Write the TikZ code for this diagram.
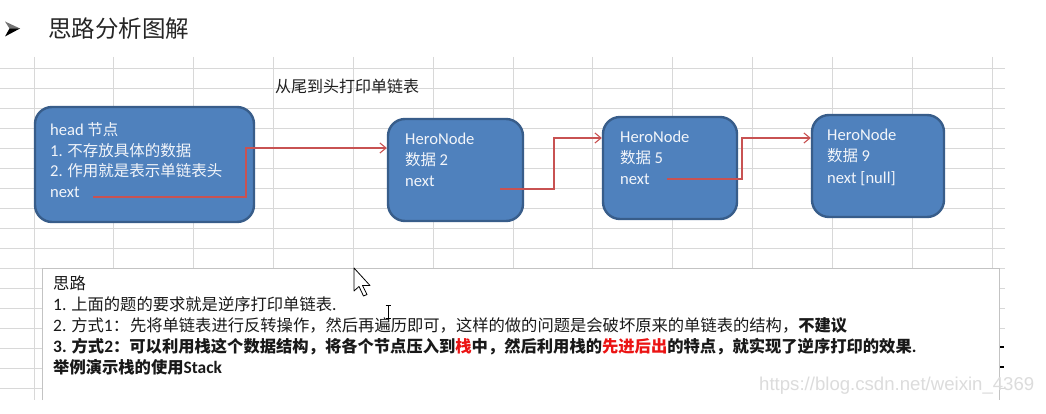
\documentclass[tikz,border=0pt]{standalone}
\usepackage{fontspec}
\usetikzlibrary{arrows.meta}
\setmainfont{Noto Sans CJK SC}
\newfontfamily\latf[Scale=1.07]{Carlito}
\newfontfamily\wmfont{Liberation Sans}
\definecolor{nodefill}{RGB}{79,129,189}
\definecolor{nodeline}{RGB}{56,93,138}
\definecolor{linkred}{RGB}{200,82,82}
\definecolor{gridc}{RGB}{216,216,216}
\definecolor{boxline}{RGB}{195,195,195}
\definecolor{wmc}{RGB}{220,220,220}
\definecolor{txtwhite}{RGB}{242,245,250}
\definecolor{hlred}{RGB}{235,20,20}
\tikzset{
  gridl/.style={draw=gridc, line width=0.8pt},
  hnode/.style={draw=nodeline, fill=nodefill, line width=2.4pt, rounded corners=17pt, inner sep=0pt},
  ntext/.style={anchor=base west, inner sep=0pt, text=txtwhite, font=\fontsize{15.5}{18}\selectfont},
  btext/.style={anchor=base west, inner sep=0pt, text=black!90, font=\fontsize{16.3}{20}\selectfont},
  link/.style={draw=linkred, line width=1.1pt, -{Straight Barb[length=6pt,width=10pt]}},
}
\begin{document}
\begin{tikzpicture}[x=1pt,y=-1pt]
\useasboundingbox (0,0) rectangle (1046,414);
\clip (0,0) rectangle (1046,414);
\fill[white] (0,0) rectangle (1046,414);
% heading bullet arrow
\coordinate (bt) at (20,28.5);
\coordinate (bn) at (9.5,28.5);
\fill[black!55] (5,21.5) -- (bt) -- (bn) -- cycle;
\fill[black] (bn) -- (bt) -- (5,36.5) -- cycle;
\node[anchor=base west, inner sep=0pt, text=black!85, font=\fontsize{23.5}{26}\selectfont] (heading) at (48,37.5) {思路分析图解};
% spreadsheet grid
\foreach \k in {0,...,9} { \draw[gridl] (0,68+20*\k) -- (1005,68+20*\k); }
\draw[gridl] (0,268) -- (1005,268);
\foreach \k in {0,...,12} { \draw[gridl] (34+79.83*\k,57) -- (34+79.83*\k,268); }
\draw[gridl] (34,268) -- (34,400);
\foreach \y in {288,308,328,348,368,388} { \draw[gridl] (0,\y) -- (42,\y); }
\foreach \y in {288,308,328,388} { \draw[gridl] (999,\y) -- (1005,\y); }
\draw[line width=2pt] (999,347) -- (1004,347);
\draw[line width=2pt] (999,367) -- (1004,367);
% title
\node[anchor=base west, inner sep=0pt, text=black!88, font=\fontsize{16}{18}\selectfont] (title) at (275,92.5) {从尾到头打印单链表};
% list nodes
\node[hnode, minimum width=219pt, minimum height=115pt] (head) at (144.5,164.5) {};
\node[hnode, minimum width=135pt, minimum height=102pt] (n2) at (455.5,170) {};
\node[hnode, minimum width=134pt, minimum height=102pt] (n5) at (670,168) {};
\node[hnode, minimum width=132pt, minimum height=102pt] (n9) at (878,166) {};
% node texts
\node[ntext] (h1) at (50,136) {{\latf head} 节点};
\node[ntext] (h2) at (50,156.5) {{\latf 1.} 不存放具体的数据};
\node[ntext] (h3) at (50,177) {{\latf 2.} 作用就是表示单链表头};
\node[ntext] (h4) at (50,197) {\latf next};
\node[ntext] (a1) at (405,145) {\latf HeroNode};
\node[ntext] (a2) at (405,166) {数据 {\latf 2}};
\node[ntext] (a3) at (405,186) {\latf next};
\node[ntext] (b1) at (620,143) {\latf HeroNode};
\node[ntext] (b2) at (620,164) {数据 {\latf 5}};
\node[ntext] (b3) at (620,185) {\latf next};
\node[ntext] (c1) at (827,141) {\latf HeroNode};
\node[ntext] (c2) at (827,162) {数据 {\latf 9}};
\node[ntext] (c3) at (827,183) {\latf next [null]};
% links
\coordinate (hnext) at (93,197);
\coordinate (hup) at (246,148);
\coordinate (anext) at (500,189);
\coordinate (aup) at (554,138);
\coordinate (bnext) at (667,179);
\coordinate (bup) at (742,138);
\draw[link] (hnext) -| (hup) -- (n2.west |- hup);
\draw[link] (anext) -| (aup) -- (n5.west |- aup);
\draw[link] (bnext) -| (bup) -- (n9.west |- bup);
% text box
\fill[white] (42,268) rectangle (999,414);
\draw[draw=boxline, line width=0.9pt] (42,400) -- (42,268) -- (999,268) -- (999,400);
\node[btext] (t0) at (53,289) {思路};
\node[btext] (t1) at (53,310) {{\latf 1.} 上面的题的要求就是逆序打印单链表{\latf .}};
\node[btext] (t2) at (53,331) {{\latf 2.} 方式{\latf 1}：\hspace{1pt}先将单链表进行反转操作，然后再遍历即可，这样的做的问题是会破坏原来的单链表的结构，\textbf{不建议}};
\node[btext] (t3) at (53,352) {\bfseries {\latf 3.} 方式{\latf 2}：可以利用栈这个数据结构，将各个节点压入到\textcolor{hlred}{栈}中，然后利用栈的\textcolor{hlred}{先进后出}的特点，就实现了逆序打印的效果{\latf .}};
\node[btext] (t4) at (53,373) {\bfseries 举例演示栈的使用{\latf Stack}};
% cursors
\draw[fill=white, line width=0.8pt, line join=round] (354,268) -- ++(0,23) -- ++(5,-4.5) -- ++(4.5,9.5) -- ++(3.5,-1.5) -- ++(-4.5,-9) -- ++(7.5,0) -- cycle;
\draw[line width=0.9pt] (388,306) -- (388,318);
\draw[line width=0.8pt] (385.5,305.5) -- (390.5,305.5);
\draw[line width=0.8pt] (385.5,318.5) -- (390.5,318.5);
% watermark
\node[anchor=base west, inner sep=0pt, text=wmc, font=\wmfont\fontsize{18.6}{20}\selectfont] (wm) at (759,390.5) {https://blog.csdn.net/weixin\_4369};
\end{tikzpicture}
\end{document}
